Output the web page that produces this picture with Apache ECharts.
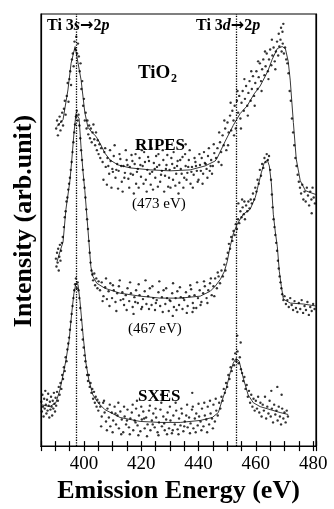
<!DOCTYPE html>
<html>
<head>
<meta charset="utf-8">
<script src="https://cdn.jsdelivr.net/npm/echarts@6/dist/echarts.min.js"></script>
<style>
  html, body { margin: 0; padding: 0; background: #fff; }
  #chart { width: 334px; height: 509px; }
</style>
</head>
<body>
<div id="chart"></div>
<script>
// x ticks / labels (eV)
var tickLabels = [400, 420, 440, 460, 480];
// dotted guide lines: Ti 3s->2p and Ti 3d->2p
var guideLines = [397.3, 453];

// smoothed curves [eV, intensity]
var line473 = [[390.6,324],[392.7,331],[394.4,361],[395.5,388],[396.9,405],[397.4,406],[399.0,371],[400.3,338],[401.4,323],[402.8,318],[404.2,314],[405.6,307],[407.3,297],[409.1,290],[411.9,285],[416.1,282],[423.1,280],[430.1,279],[437.1,280],[442.3,284],[445.8,289],[446.5,292],[449.3,309],[452.1,325],[454.5,337],[457.0,345],[459.4,357],[461.5,365],[463.3,375],[464.3,381],[465.7,392],[467.5,403],[469.2,405],[470.3,403],[471.3,390],[472.0,371],[473.1,328],[474.1,291],[474.8,280],[475.5,269],[477.3,259],[479.0,257],[481,255]];
var line467 = [[390.6,187],[391.6,197],[392.7,207],[393.7,240],[395.1,269],[395.8,292],[396.5,317],[397.2,337],[397.6,339],[398.3,332],[399.0,302],[399.7,277],[400.3,259],[401.4,219],[402.4,182],[403.1,172],[404.5,165],[407.3,160],[412.6,155],[419.6,152],[426.6,150],[433.6,150],[440.6,152],[444.1,157],[445.8,162],[447.6,169],[449.0,177],[450.0,187],[451.0,202],[452.1,215],[453.5,225],[455.6,235],[458.0,240],[459.8,252],[460.8,264],[461.9,277],[462.9,287],[464.0,290],[464.7,284],[465.4,267],[466.1,235],[466.8,217],[467.5,202],[468.2,177],[468.9,162],[469.6,149],[472.0,145],[476.6,144],[481,142]];
var lineSxes = [[385.0,42],[388.1,40],[390.2,44],[391.6,57],[392.7,72],[393.7,87],[394.8,107],[395.8,137],[396.5,155],[397.2,165],[397.9,164],[398.6,147],[399.7,112],[400.7,84],[401.7,67],[403.1,52],[404.9,44],[407.3,37],[412.6,29],[419.6,25],[426.6,24],[433.6,24],[440.6,26],[444.8,29],[446.9,34],[448.3,47],[449.7,59],[451.0,74],[452.1,84],[453.1,89],[454.2,86],[455.6,69],[457.3,52],[459.1,44],[461.5,40],[465.0,37],[468.5,34],[471.3,32]];

// measured points [eV, intensity]
var pts473 = [[390.3,322],[390.6,330],[390.9,315],[391.2,326],[391.5,334],[391.8,320],[392.1,329],[392.4,338],[392.7,325],[393.0,342],[393.3,350],[393.6,336],
[394.0,355],[394.3,368],[394.6,349],[394.9,372],[395.2,380],[395.5,366],[395.8,392],[396.1,398],[396.4,385],[396.7,410],[397.0,402],[397.3,415],[397.6,398],[397.9,408],
[398.2,395],[398.5,380],[398.8,388],[399.1,362],[399.4,370],[399.7,345],[400.0,352],[400.3,330],[400.6,338],[400.9,322],[401.2,330],[401.5,316],[401.8,325],[402.1,312],[402.4,322],[402.7,308],[403.0,318],[403.3,326],[403.6,311],[403.9,305],[404.2,318],[404.5,300],[404.8,310],[405.1,296],[405.4,306],[405.7,292],[406.0,302],
[406.5,288],[407.1,298],[407.6,283],[408.2,292],[408.8,276],[409.3,289],[409.9,281],[410.4,294],[411.0,272],[411.6,286],[412.1,279],[412.7,291],[413.2,268],[413.8,284],[414.3,277],[414.9,290],[415.5,271],[416.0,283],[416.6,295],[417.1,275],[417.7,286],[418.2,266],[418.8,281],[419.4,292],[419.9,273],[420.5,284],[421.0,298],[421.6,270],[422.1,280],[422.7,289],[423.3,265],[423.8,278],[424.4,287],[424.9,272],[425.5,283],[426.0,296],[426.6,268],[427.2,279],[427.7,290],[428.3,274],[428.8,285],[429.4,263],[429.9,280],[430.5,292],[431.1,270],[431.6,282],[432.2,276],[432.7,289],[433.3,267],[433.8,281],[434.4,293],[435.0,272],[435.5,284],[436.1,277],[436.6,290],[437.2,266],[437.7,283],[438.3,275],[438.9,288],[439.4,279],[440.0,270],[440.5,285],[441.1,292],[441.6,276],[442.2,287],[442.8,281],[443.3,294],[443.9,279],[444.4,290],[445.0,284],[445.5,297],
[406.8,270],[407.4,302],[408.0,265],[408.5,284],[409.1,300],[409.6,262],[410.1,278],[410.7,305],[411.3,280],[411.9,261],[412.4,296],[413.0,284],[413.5,258],[414.1,272],[414.6,300],[415.2,285],[415.8,262],[416.3,276],[416.9,289],[417.4,256],[418.0,296],[418.5,278],[419.1,262],[419.7,285],[420.2,300],[420.8,266],[421.3,288],[421.9,258],[422.4,293],[423.0,276],[423.6,302],[424.1,260],[424.7,281],[425.2,294],[425.8,263],[426.3,285],[426.9,275],[427.5,300],[428.0,258],[428.6,281],[429.1,295],[429.7,272],[430.2,262],[430.8,286],[431.3,298],[431.9,264],[432.5,284],[433.0,256],[433.6,290],[434.1,276],[434.7,262],[435.3,296],[435.8,270],[436.4,283],[436.9,300],[437.5,278],[438.0,262],[438.6,292],[439.1,284],[439.7,268],[440.3,296],[440.8,279],[441.4,266],[441.9,298],[442.5,286],[443.1,272],[443.6,302],[444.2,284],[444.7,276],[445.3,306],[435.5,306],
[446.1,292],[446.6,302],[447.0,288],[447.5,308],[447.9,298],[448.4,315],[448.8,305],[449.3,322],[449.7,300],[450.1,328],[450.5,318],[451.0,335],[451.4,320],[451.8,340],[452.2,330],[452.6,345],[453.0,322],[453.4,350],[453.8,338],[454.2,355],[454.6,332],[455.0,348],[455.4,360],[455.8,340],[456.2,352],[456.6,365],[457.0,345],[457.4,358],[457.8,370],[458.2,350],[458.6,362],[459.0,375],[459.4,355],[459.8,368],[460.2,380],[460.6,362],[461.0,374],[461.4,388],[461.8,370],[462.2,382],[462.6,392],[463.0,376],[463.4,385],[463.8,398],[464.2,380],[464.6,392],[465.0,402],[465.4,386],[465.8,396],[466.2,404],[466.6,390],[467.0,400],[467.4,410],[467.8,396],[468.2,405],[468.6,412],[469.0,400],[469.4,408],[469.8,398],[470.2,404],[470.6,392],
[447.2,318],[448.0,285],[449.0,330],[450.3,305],[451.2,348],[452.4,315],[453.6,360],[454.8,322],[456.0,372],[457.2,335],[458.4,380],[459.6,345],[460.8,390],[462.0,360],[463.2,400],[464.4,372],[465.6,412],[466.8,382],[468.0,418],
[468.8,424],[469.3,420],[469.6,428],
[471.0,388],[471.4,378],[471.8,360],[472.2,350],[472.6,332],[473.0,318],[473.4,305],[473.8,292],[474.2,284],[474.6,275],[475.0,268],[475.4,262],[475.8,256],[476.2,265],[476.6,250],[477.0,258],[477.4,248],[477.8,262],[478.2,254],[478.6,244],[479.0,258],[479.4,250],[479.8,262],[480.2,252],[480.6,246],[479.5,236]];

var pts467 = [[390.2,190],[390.4,182],[390.6,196],[390.8,186],[391.0,200],[391.2,178],[391.4,192],[391.6,204],[391.8,188],[392.0,198],[392.3,206],[392.6,212],
[393.0,222],[393.3,232],[393.6,238],[393.9,248],[394.2,252],[394.5,260],[394.8,266],[395.1,272],[395.4,280],[395.7,288],[396.0,298],[396.3,308],[396.6,318],[396.9,326],[397.2,334],[397.5,340],[397.8,330],
[398.1,336],[398.4,325],[398.7,312],[399.0,300],[399.3,290],[399.6,280],[399.9,270],[400.2,262],[400.5,252],[400.8,240],[401.1,230],[401.4,220],[401.7,208],[402.0,196],[402.3,186],[402.6,178],[402.9,174],[403.2,168],[403.6,175],[403.9,163],[404.3,170],[404.7,160],[405.1,167],
[405.6,158],[406.2,166],[406.8,152],[407.4,161],[408.0,149],[408.6,157],[409.2,165],[409.8,150],[410.4,158],[411.0,146],[411.6,155],[412.2,162],[412.8,148],[413.4,156],[414.0,143],[414.6,153],[415.2,160],[415.8,147],[416.4,155],[417.0,141],[417.6,151],[418.2,158],[418.8,145],[419.4,153],[420.0,139],[420.6,149],[421.2,157],[421.8,144],[422.4,152],[423.0,160],[423.6,143],[424.2,150],[424.8,138],[425.4,148],[426.0,156],[426.6,142],[427.2,151],[427.8,158],[428.4,144],[429.0,150],[429.6,137],[430.2,147],[430.8,155],[431.4,141],[432.0,150],[432.6,157],[433.2,143],[433.8,151],[434.4,139],[435.0,148],[435.6,156],[436.2,142],[436.8,152],[437.4,159],[438.0,145],[438.6,153],[439.2,140],[439.8,150],[440.4,158],[441.0,146],[441.6,155],[442.2,162],[442.8,150],[443.4,158],[444.0,165],[444.6,153],[445.2,162],[445.8,170],[446.4,160],
[406.5,147],[407.7,170],[408.9,142],[410.1,163],[411.3,137],[412.5,168],[413.7,149],[414.9,138],[416.1,166],[417.9,146],[419.1,164],[420.3,141],[421.5,168],[422.7,139],[423.9,162],[425.1,145],[426.3,167],[427.5,136],[428.7,160],[429.9,148],[431.1,165],[432.3,138],[433.5,161],[434.7,150],[435.9,135],[437.1,163],[438.3,140],[439.5,166],[440.7,143],[441.9,167],[443.1,145],[444.3,170],[445.5,152],[446.7,176],
[417.3,134],[431.0,132],[437.9,136],
[447.0,172],[447.5,165],[448.0,178],[448.5,172],[449.0,184],[449.4,178],[449.8,190],[450.2,196],[450.6,205],[451.0,200],[451.4,212],[451.8,208],[452.2,218],[452.6,214],[453.0,225],[453.4,220],[453.8,230],[454.2,226],[454.6,238],[455.0,232],[455.4,242],[455.8,235],[456.2,230],[456.6,244],[457.0,238],[457.4,248],[457.8,241],[458.2,250],[458.6,246],[459.0,256],[459.4,250],[459.8,262],[460.2,258],[460.6,270],[461.0,266],[461.4,280],[461.8,274],[462.2,286],[462.6,282],[463.0,292],[463.4,288],[463.8,296],[464.2,290],[464.6,294],[465.0,280],
[453.9,246],[455.2,250],[456.0,248],
[465.3,270],[465.6,255],[465.9,242],[466.2,230],[466.5,222],[466.8,214],[467.1,206],[467.4,198],[467.7,188],[468.0,180],[468.3,172],[468.6,166],[468.9,160],[469.2,154],[469.6,148],[470.0,152],[470.5,144],[471.0,148],[471.5,141],[472.0,150],[472.5,143],[473.0,138],[473.5,147],[474.0,140],[474.5,136],[475.0,145],[475.5,139],[476.0,148],[476.5,135],[477.0,142],[477.5,138],[478.0,146],[478.5,133],[479.0,141],[479.5,137],[480.0,144],[480.5,139]];

var ptsSxes = [[385.1,45],[385.3,35],[385.5,52],[385.7,40],[385.9,30],[386.1,48],[386.3,38],[386.5,56],[386.7,42],[386.9,33],[387.1,47],[387.3,36],[387.5,53],[387.7,41],[387.9,29],[388.1,45],[388.3,37],[388.5,50],[388.7,40],[388.9,31],[389.1,46],[389.3,38],[389.5,54],[389.7,43],[389.9,35],[390.1,49],[390.3,41],[390.6,55],[390.9,46],[391.2,60],[391.5,52],
[391.8,64],[392.1,58],[392.4,72],[392.7,68],[393.0,80],[393.3,76],[393.6,90],[393.9,86],[394.2,98],[394.5,104],[394.8,110],[395.1,118],[395.4,126],[395.7,134],[396.0,142],[396.3,150],[396.6,158],[396.9,164],[397.2,170],[397.5,160],
[397.8,166],[398.1,158],[398.4,150],[398.7,140],[399.0,128],[399.3,118],[399.6,108],[399.9,100],[400.2,92],[400.5,86],[400.8,80],[401.1,72],[401.4,66],[401.7,72],[402.0,60],[402.3,64],[402.6,54],[402.9,58],[403.2,48],[403.5,55],[403.8,44],[404.1,50],[404.4,40],[404.7,47],[405.0,36],[405.3,44],
[405.7,40],[406.2,30],[406.7,44],[407.2,34],[407.7,25],[408.2,38],[408.7,29],[409.2,20],[409.7,34],[410.2,26],[410.7,40],[411.2,22],[411.7,31],[412.2,18],[412.7,35],[413.2,27],[413.7,14],[414.2,30],[414.7,22],[415.2,37],[415.7,19],[416.2,28],[416.7,34],[417.2,16],[417.7,26],[418.2,38],[418.7,21],[419.2,31],[419.7,15],[420.2,27],[420.7,35],[421.2,18],[421.7,29],[422.2,22],[422.7,36],[423.2,16],[423.7,26],[424.2,33],[424.7,19],[425.2,29],[425.7,14],[426.2,24],[426.7,37],[427.2,20],[427.7,30],[428.2,16],[428.7,27],[429.2,34],[429.7,18],[430.2,26],[430.7,13],[431.2,31],[431.7,22],[432.2,36],[432.7,17],[433.2,28],[433.7,21],[434.2,33],[434.7,15],[435.2,25],[435.7,31],[436.2,19],[436.7,29],[437.2,23],[437.7,37],[438.2,18],[438.7,28],[439.2,33],[439.7,21],[440.2,30],[440.7,25],[441.2,38],[441.7,20],[442.2,31],[442.7,27],[443.2,40],[443.7,22],[444.2,33],[444.7,28],[445.2,42],[445.7,25],[446.2,36],[446.7,31],
[406.0,20],[407.0,46],[408.0,16],[409.0,42],[410.0,14],[411.0,33],[412.0,44],[413.0,12],[414.0,40],[415.0,26],[416.0,12],[417.0,42],[418.0,24],[419.0,11],[420.0,40],[421.0,28],[422.0,10],[423.0,41],[424.0,22],[425.0,38],[426.0,11],[427.0,44],[428.0,23],[429.0,12],[430.0,40],[431.0,16],[432.0,44],[433.0,12],[434.0,38],[435.0,20],[436.0,42],[437.0,13],[438.0,40],[439.0,14],[440.0,43],[441.0,16],[442.0,44],[443.0,14],[444.0,46],[445.0,18],[446.0,48],
[418.5,46],[426.9,52],[437.8,54],
[447.2,44],[447.6,38],[448.0,50],[448.4,46],[448.8,58],[449.2,54],[449.6,64],[450.0,60],[450.4,72],[450.8,68],[451.2,80],[451.6,76],[452.0,88],[452.4,82],[452.8,94],[453.2,86],[453.6,96],[454.0,84],[454.4,90],[454.8,78],
[453.5,112],[454.7,105],
[455.2,74],[455.6,66],[456.0,70],[456.4,58],[456.8,62],[457.2,50],[457.6,56],[458.0,44],[458.4,52],[458.8,40],[459.2,48],[459.6,36],[460.0,46],[460.4,38],[460.8,50],[461.2,34],[461.6,44],[462.0,30],[462.4,42],[462.8,36],[463.2,50],[463.6,28],[464.0,40],[464.4,33],[464.8,46],[465.2,30],[465.6,38],[466.0,24],[466.4,42],[466.8,32],[467.2,36],[467.6,26],[468.0,40],[468.4,30],[468.8,22],[469.2,38],[469.6,28],[470.0,34],[470.4,24],[470.8,36],[471.2,30],
[465.4,56],[467.5,60],[469.0,52]];

var serif = "'Liberation Serif', 'DejaVu Serif', serif";

var chart = echarts.init(document.getElementById('chart'));

function scatterSeries(data) {
  return {
    type: 'scatter', data: data, symbolSize: 2.4, silent: true, z: 3,
    itemStyle: { color: '#000' }
  };
}
function lineSeries(data) {
  return {
    type: 'line', data: data, showSymbol: false, silent: true, z: 2,
    lineStyle: { color: '#222', width: 0.9 }
  };
}

var xCommon = {
  type: 'value', min: 385, max: 481, interval: 5,
  splitLine: { show: false },
  axisLine: { lineStyle: { color: '#000', width: 1.2 } },
  axisTick: { inside: true, length: 5, lineStyle: { color: '#000', width: 1.2 } }
};

// label style for the transition titles
var transRich = {
  b: { fontFamily: serif, fontWeight: 'bold', fontSize: 16 },
  bi: { fontFamily: serif, fontWeight: 'bold', fontStyle: 'italic', fontSize: 16 },
  ar: { fontFamily: "'DejaVu Sans'", fontWeight: 'bold', fontSize: 16 }
};

var option = {
  backgroundColor: '#fff',
  animation: false,
  grid: { left: 41, right: 18, top: 14, bottom: 57, show: true, borderColor: '#000', borderWidth: 1.2 },
  xAxis: [
    Object.assign({}, xCommon, {
      position: 'bottom',
      name: 'Emission Energy (eV)', nameLocation: 'middle', nameGap: 30,
      nameTextStyle: { fontFamily: serif, fontWeight: 'bold', fontSize: 26, color: '#000' },
      axisLabel: {
        fontFamily: serif, fontSize: 19, color: '#000', margin: 8,
        formatter: function (v) { return tickLabels.indexOf(v) >= 0 ? String(v) : ''; }
      }
    }),
    Object.assign({}, xCommon, { position: 'top', axisLabel: { show: false } })
  ],
  yAxis: [
    {
      type: 'value', min: 0, max: 438, position: 'left',
      splitLine: { show: false }, axisTick: { show: false }, axisLabel: { show: false },
      axisLine: { show: true, lineStyle: { color: '#000', width: 1.2 } },
      name: 'Intensity (arb.unit)', nameLocation: 'middle', nameGap: 4,
      nameTextStyle: { fontFamily: serif, fontWeight: 'bold', fontSize: 26, color: '#000', padding: [0, 0, 0, 18] }
    },
    {
      type: 'value', min: 0, max: 438, position: 'right',
      splitLine: { show: false }, axisTick: { show: false }, axisLabel: { show: false },
      axisLine: { show: true, lineStyle: { color: '#000', width: 1.2 } }
    }
  ],
  series: [
    Object.assign(lineSeries(line473), {
      markLine: {
        silent: true, symbol: 'none', label: { show: false },
        lineStyle: { type: 'dotted', color: '#000', width: 1.3 },
        data: guideLines.map(function (e) { return { xAxis: e }; })
      }
    }),
    lineSeries(line467),
    lineSeries(lineSxes),
    scatterSeries(pts473),
    scatterSeries(pts467),
    scatterSeries(ptsSxes)
  ],
  graphic: [
    { type: 'text', left: 47, top: 18, z: 10, style: {
      text: '{b|Ti 3}{bi|s}{ar|\u2192}{b|2}{bi|p}', fill: '#000', rich: transRich } },
    { type: 'text', left: 196, top: 18, z: 10, style: {
      text: '{b|Ti 3}{bi|d}{ar|\u2192}{b|2}{bi|p}', fill: '#000', rich: transRich } },
    { type: 'text', left: 138, top: 64, z: 10, style: { text: 'TiO', fill: '#000', font: 'bold 19px ' + serif } },
    { type: 'text', left: 171, top: 73, z: 10, style: { text: '2', fill: '#000', font: 'bold 12px ' + serif } },
    { type: 'text', left: 135, top: 137, z: 10, style: { text: 'RIPES', fill: '#000', font: 'bold 17px ' + serif } },
    { type: 'text', left: 132, top: 197, z: 10, style: { text: '(473 eV)', fill: '#000', font: '15px ' + serif } },
    { type: 'text', left: 128, top: 322, z: 10, style: { text: '(467 eV)', fill: '#000', font: '15px ' + serif } },
    { type: 'text', left: 138, top: 388, z: 10, style: { text: 'SXES', fill: '#000', font: 'bold 17px ' + serif } }
  ]
};

chart.setOption(option);
</script>
</body>
</html>
